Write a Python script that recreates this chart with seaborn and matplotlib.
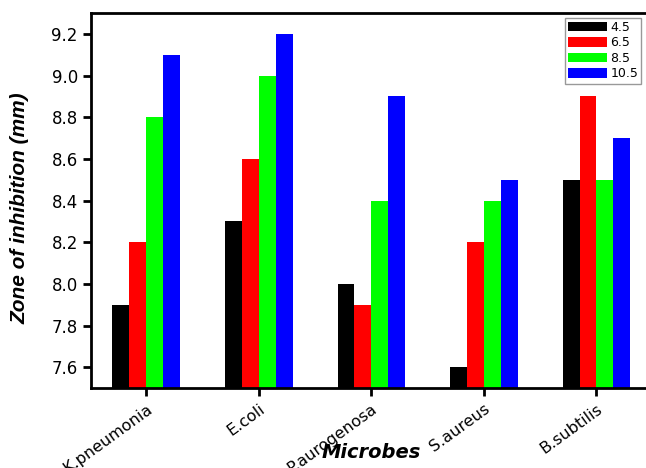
import pandas as pd
import numpy as np
import seaborn as sns
import matplotlib.pyplot as plt

microbes = ['K.pneumonia', 'E.coli', 'P.aurogenosa', 'S.aureus', 'B.subtilis']
levels = ['4.5', '6.5', '8.5', '10.5']
v45 = [7.9, 8.3, 8.0, 7.6, 8.5]
v65 = [8.2, 8.6, 7.9, 8.2, 8.9]
v85 = [8.8, 9.0, 8.4, 8.4, 8.5]
v105 = [9.1, 9.2, 8.9, 8.5, 8.7]
colors = ['#000000', '#ff0000', '#00ff00', '#0000ff']

df = pd.DataFrame({'Microbe': microbes * 4,
                   'Level': np.repeat(levels, len(microbes)),
                   'Zone': v45 + v65 + v85 + v105})

sns.set_style('ticks')
plt.rcParams['font.family'] = ['DejaVu Sans']
plt.rcParams['text.color'] = 'black'
plt.rcParams['axes.labelcolor'] = 'black'

fig = plt.figure(figsize=(6.46, 4.68), dpi=100)
ax = fig.add_axes([91 / 646, 80 / 468, 555 / 646, 375 / 468])
sns.barplot(data=df, x='Microbe', y='Zone', hue='Level', palette=colors,
            width=0.6, saturation=1, linewidth=0, ax=ax)

ax.set_ylim(7.5, 9.3)
ax.set_xlim(-0.49, 4.44)
ax.set_yticks([7.6, 7.8, 8.0, 8.2, 8.4, 8.6, 8.8, 9.0, 9.2])
ax.set_yticklabels(['7.6', '7.8', '8.0', '8.2', '8.4', '8.6', '8.8', '9.0', '9.2'], fontsize=12)
for lab in ax.get_xticklabels():
    lab.set_rotation(36)
    lab.set_ha('right')
    lab.set_rotation_mode('anchor')
    lab.set_fontsize(11.5)
ax.tick_params(axis='both', direction='out', length=5.5, width=2, colors='black')
ax.tick_params(axis='y', pad=4)
ax.tick_params(axis='x', pad=4)
for s in ['left', 'bottom', 'top']:
    ax.spines[s].set_linewidth(2)
    ax.spines[s].set_color('black')
ax.spines['right'].set_visible(False)

ax.set_ylabel('Zone of inhibition (mm)', fontsize=15, fontweight='bold', style='italic',
              family='Liberation Sans', va='center')
ax.yaxis.set_label_coords(-0.128, 0.48)
ax.set_xlabel('Microbes', fontsize=14, fontweight='bold', style='italic', va='center')
ax.xaxis.set_label_coords(0.505, -0.171)

leg = ax.legend(loc='upper right', bbox_to_anchor=(0.9915, 0.987), title=None,
                fontsize=9, frameon=True, fancybox=False, edgecolor='gray',
                handlelength=3.1, handleheight=0.8, labelspacing=0.2,
                borderpad=0.25, handletextpad=0.25, borderaxespad=0)
leg.get_frame().set_linewidth(1)

fig.savefig('out.png', dpi=100)
